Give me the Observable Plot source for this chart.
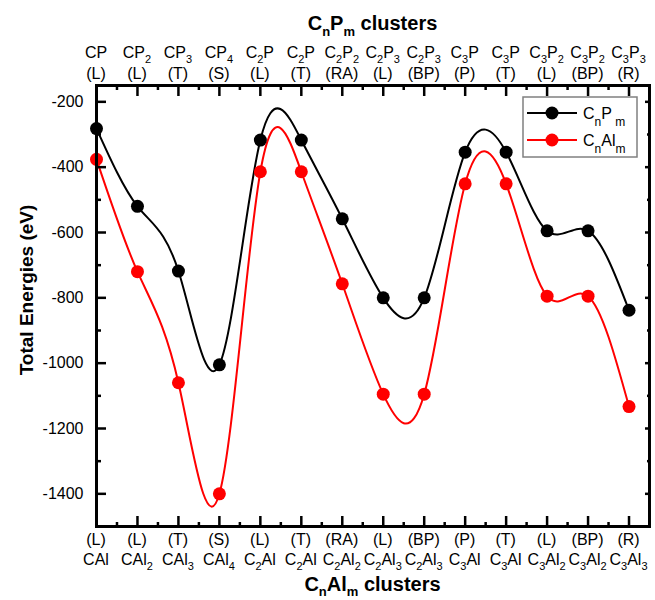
<!DOCTYPE html>
<html>
<head>
<meta charset="utf-8">
<script src="https://cdn.jsdelivr.net/npm/d3@7"></script>
<script src="https://cdn.jsdelivr.net/npm/@observablehq/plot@0.6"></script>
<style>
  body { margin: 0; background: #fff; }
  #chart svg { display: block; }
</style>
</head>
<body>
<div id="chart"></div>
<script>
// ---- data ----
const topFormulas = ["CP", "CP_2", "CP_3", "CP_4", "C_2P", "C_2P", "C_2P_2", "C_2P_3", "C_2P_3", "C_3P", "C_3P", "C_3P_2", "C_3P_2", "C_3P_3"];
const bottomFormulas = ["CAl", "CAl_2", "CAl_3", "CAl_4", "C_2Al", "C_2Al", "C_2Al_2", "C_2Al_3", "C_2Al_3", "C_3Al", "C_3Al", "C_3Al_2", "C_3Al_2", "C_3Al_3"];
const structures = ["(L)", "(L)", "(T)", "(S)", "(L)", "(T)", "(RA)", "(L)", "(BP)", "(P)", "(T)", "(L)", "(BP)", "(R)"];
const cnpmValues = [-282, -520, -718, -1005, -317, -317, -558, -800, -800, -354, -354, -595, -595, -838];
const cnalmValues = [-376, -720, -1060, -1400, -414, -414, -757, -1095, -1095, -451, -451, -795, -795, -1133];
const yTicks = [-200, -400, -600, -800, -1000, -1200, -1400];
const yMinor = [-300, -500, -700, -900, -1100, -1300, -1500];
const seriesNames = ["C_nP_ _m", "C_nAl_m"];
const seriesColors = ["#000000", "#ff0000"];

const idx = d3.range(topFormulas.length);
const dataP = idx.map(i => ({i, v: cnpmValues[i]}));
const dataAl = idx.map(i => ({i, v: cnalmValues[i]}));
const xMinor = idx.map(i => i + 0.5);

const font = "'Liberation Sans', Arial, Helvetica, sans-serif";

const plot = Plot.plot({
  width: 655,
  height: 600,
  marginLeft: 96,
  marginRight: 6,
  marginTop: 85,
  marginBottom: 74,
  style: {fontFamily: font, fontSize: "16px", background: "#fff", color: "#000"},
  x: {domain: [0, 13.5]},
  y: {domain: [-1500, -150]},
  marks: [
    Plot.line(dataP, {x: "i", y: "v", curve: "natural", stroke: seriesColors[0], strokeWidth: 2}),
    Plot.line(dataAl, {x: "i", y: "v", curve: "natural", stroke: seriesColors[1], strokeWidth: 2}),
    Plot.dot(dataP, {x: "i", y: "v", r: 6.5, fill: seriesColors[0], stroke: "none"}),
    Plot.dot(dataAl, {x: "i", y: "v", r: 6.5, fill: seriesColors[1], stroke: "none"}),
    // y axis labels
    Plot.axisY(yTicks, {anchor: "left", tickSize: 0, tickPadding: 13, tickFormat: d => String(d), fontSize: 16, label: null}),
    // inward ticks
    Plot.axisY(yTicks, {anchor: "left", tickSize: -10, tickFormat: () => "", strokeWidth: 2.5, label: null}),
    Plot.axisY(yMinor, {anchor: "left", tickSize: -5, tickFormat: () => "", strokeWidth: 2.5, label: null}),
    Plot.axisY(yTicks, {anchor: "right", tickSize: -5, tickFormat: () => "", strokeWidth: 2.5, label: null}),
    Plot.axisY(yMinor, {anchor: "right", tickSize: -3, tickFormat: () => "", strokeWidth: 2.5, label: null}),
    Plot.axisX(idx, {anchor: "bottom", tickSize: -10, tickFormat: () => "", strokeWidth: 2.5, label: null}),
    Plot.axisX(xMinor, {anchor: "bottom", tickSize: -4, tickFormat: () => "", strokeWidth: 2.5, label: null}),
    Plot.axisX(idx, {anchor: "top", tickSize: -10, tickFormat: () => "", strokeWidth: 2.5, label: null}),
    Plot.axisX(xMinor, {anchor: "top", tickSize: -4, tickFormat: () => "", strokeWidth: 2.5, label: null}),
    Plot.frame({stroke: "#000", strokeWidth: 3})
  ]
});

document.getElementById("chart").appendChild(plot);

// ---- rich text helper (subscripts marked with _x) ----
function rich(textSel, str, size, subSize, drop) {
  const re = /_(.)|([^_]+)/g;
  let m, inSub = false;
  while ((m = re.exec(str))) {
    if (m[1] !== undefined) {
      textSel.append("tspan").attr("font-size", subSize).attr("dy", inSub ? 0 : drop).text(m[1]);
      inSub = true;
    } else {
      textSel.append("tspan").attr("font-size", size).attr("dy", inSub ? -drop : 0).text(m[2]);
      inSub = false;
    }
  }
}

const svg = d3.select(plot);
const sx = plot.scale("x");
const g = svg.append("g").attr("font-family", font).attr("fill", "#000");

idx.forEach(i => {
  const x = sx.apply(i);
  rich(g.append("text").attr("x", x).attr("y", 58).attr("text-anchor", "middle"), topFormulas[i], 16, 11, 5);
  g.append("text").attr("x", x).attr("y", 79).attr("text-anchor", "middle").attr("font-size", 16).text(structures[i]);
  g.append("text").attr("x", x).attr("y", 545).attr("text-anchor", "middle").attr("font-size", 16).text(structures[i]);
  rich(g.append("text").attr("x", x).attr("y", 565).attr("text-anchor", "middle"), bottomFormulas[i], 16, 11, 5);
});

const cx = (sx.range[0] + sx.range[1]) / 2;
rich(g.append("text").attr("x", cx).attr("y", 30).attr("text-anchor", "middle").attr("font-weight", "bold"), "C_nP_m clusters", 20, 13, 6);
rich(g.append("text").attr("x", cx).attr("y", 591).attr("text-anchor", "middle").attr("font-weight", "bold"), "C_nAl_m clusters", 20, 13, 5);
g.append("text").attr("transform", "translate(33,290) rotate(-90)").attr("text-anchor", "middle")
  .attr("font-weight", "bold").attr("font-size", 19).text("Total Energies (eV)");

// ---- legend ----
const lg = svg.append("g").attr("font-family", font);
lg.append("rect").attr("x", 523).attr("y", 97).attr("width", 114).attr("height", 60)
  .attr("fill", "#fff").attr("stroke", "#808080").attr("stroke-width", 1.5);
seriesNames.forEach((name, k) => {
  const yy = 113 + k * 27;
  lg.append("line").attr("x1", 527).attr("x2", 577).attr("y1", yy).attr("y2", yy)
    .attr("stroke", seriesColors[k]).attr("stroke-width", 2);
  lg.append("circle").attr("cx", 552).attr("cy", yy).attr("r", 6.5).attr("fill", seriesColors[k]);
  rich(lg.append("text").attr("x", 583).attr("y", yy + 5.5).attr("text-anchor", "start").attr("fill", "#000")
    .attr("xml:space", "preserve").style("white-space", "pre"), name, 16, 12, 7);
});
</script>
</body>
</html>
